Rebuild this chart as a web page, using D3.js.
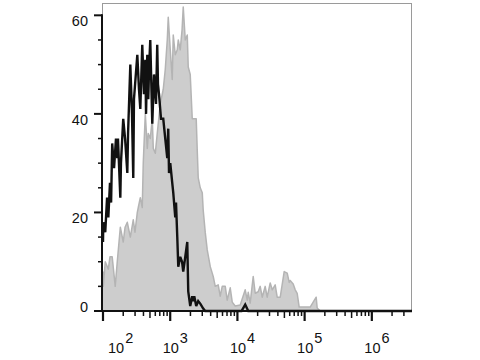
<!DOCTYPE html>
<html>
<head>
<meta charset="utf-8">
<script src="https://cdn.jsdelivr.net/npm/d3@7/dist/d3.min.js"></script>
<style>
  body { margin: 0; background: #fff; }
  svg text { font-family: "Liberation Sans", Arial, sans-serif; fill: #111; }
</style>
</head>
<body>
<div id="chart"></div>
<script>
// fluorescence intensity (x) and event count (y)
const stainedX = [100, 101, 108, 115, 120, 127, 132, 137, 146, 156, 163, 167, 181, 185, 200, 213, 230, 236,
  255, 270, 282, 289, 324, 343, 359, 384, 407, 426, 437, 456, 472, 484, 505, 541, 574, 615, 641, 658, 681,
  730, 788, 844, 904, 935, 960, 1002, 1072, 1110, 1189, 1220, 1274, 1318, 1410, 1500, 1563, 1675, 1794,
  1855, 1986, 2128, 2203, 2280, 2438, 2612, 2799, 3097, 3319, 11500, 13062, 14500, 3960000];
const stainedY = [14, 18, 16, 23, 19, 26, 22, 34, 29, 35, 31, 35, 23, 30, 39, 35, 28, 36,
  50, 40, 27, 43, 52, 45, 41, 54, 44, 51, 40, 52, 43, 49, 55, 38, 48, 42, 54, 46, 44,
  39, 39, 35, 31, 37, 28, 30, 26, 24, 19, 22, 15, 9, 11, 10, 8, 11, 14,
  4, 1, 3, 2, 3, 1, 2, 1.5, 0.5, 0, 0, 1.3, 0, 0];

const controlX = [100, 101, 108, 120, 127, 137, 152, 163, 181, 200, 213, 230, 255, 282, 299, 324, 335, 359,
  384, 397, 426, 456, 472, 505, 541, 560, 600, 641, 711, 788, 844, 904, 935, 1002, 1072, 1110, 1189, 1274,
  1318, 1410, 1500, 1563, 1675, 1794, 1855, 1986, 2128, 2357, 2438, 2524, 2612, 2799, 2999, 3097, 3319,
  3556, 3945, 4365, 4677, 5176, 5546, 5943, 6592, 7047, 7816, 8375, 9268, 11015, 13062, 13996, 14489,
  15488, 17178, 18408, 20370, 21827, 23388, 25880, 27733, 30761, 32961, 36475, 39083, 43351, 49659,
  55081, 58928, 60993, 67621, 72443, 77496, 82991, 121022, 148594, 153815, 170607];
const controlY = [8, 5, 10, 8.5, 11, 11, 5, 10, 17, 14, 17, 18, 15, 18.5, 16, 20, 21, 23,
  21, 30, 40, 33, 36, 35, 39, 33, 32, 36, 42, 45, 49, 55, 59.6, 53, 47, 56, 52, 53,
  55, 53, 57, 61.7, 55, 56, 49.5, 48, 39, 39, 39, 32.7, 27, 25, 24, 20.5, 16,
  12.4, 9, 7, 5, 5.3, 3, 5, 5, 2.2, 4.7, 1.8, 1, 1.2, 4.3, 2.2, 3.8,
  1.6, 7, 3.6, 3.9, 5, 2.8, 5, 2.8, 5.7, 4.3, 5.3, 2.8, 2.8, 8,
  7.7, 5.8, 6.2, 5.5, 4.3, 3.6, 0.8, 0.8, 2.8, 0.6, 0];

const yTicks = [0, 20, 40, 60];
const xDecades = [2, 3, 4, 5, 6];

const width = 480, height = 360;

const svg = d3.select("#chart").append("svg")
  .attr("width", width)
  .attr("height", height);

const x = d3.scaleLog().domain([100, 3960000]).range([103, 412]);
const y = d3.scaleLinear().domain([0, 62.5]).range([311, 3]);

const control = controlX.map((v, i) => ({ x: v, y: controlY[i] }));
const stained = stainedX.map((v, i) => ({ x: v, y: stainedY[i] }));

// frame
svg.append("rect")
  .attr("x", 102.5).attr("y", 3.5)
  .attr("width", 309).attr("height", 307.5)
  .attr("fill", "none")
  .attr("stroke", "#9a9a9a")
  .attr("stroke-width", 1);

// grey control histogram
const area = d3.area()
  .x(d => x(d.x))
  .y0(y(0))
  .y1(d => y(d.y));

const line = d3.line()
  .x(d => x(d.x))
  .y(d => y(d.y));

svg.append("path")
  .datum(control)
  .attr("fill", "#cdcdcd")
  .attr("d", area);

svg.append("path")
  .datum(control)
  .attr("fill", "none")
  .attr("stroke", "#b4b4b4")
  .attr("stroke-width", 1.5)
  .attr("stroke-linejoin", "round")
  .attr("d", line);

// black stained histogram
svg.append("path")
  .datum(stained)
  .attr("fill", "none")
  .attr("stroke", "#111")
  .attr("stroke-width", 2.4)
  .attr("stroke-linejoin", "miter")
  .attr("stroke-miterlimit", 3)
  .attr("d", line);

// y axis
const yMinor = d3.range(0, 61, 5).filter(v => !yTicks.includes(v));
svg.append("line")
  .attr("x1", 102).attr("x2", 102)
  .attr("y1", y(60) - 1).attr("y2", 312)
  .attr("stroke", "#111").attr("stroke-width", 2);

svg.selectAll(".ymaj").data(yTicks).join("line")
  .attr("x1", 94).attr("x2", 102)
  .attr("y1", d => y(d)).attr("y2", d => y(d))
  .attr("stroke", "#111").attr("stroke-width", 2);

svg.selectAll(".ymin").data(yMinor).join("line")
  .attr("x1", 98).attr("x2", 102)
  .attr("y1", d => y(d)).attr("y2", d => y(d))
  .attr("stroke", "#111").attr("stroke-width", 1.5);

svg.selectAll(".ylab").data(yTicks).join("text")
  .attr("x", 88)
  .attr("y", d => d === 0 ? y(d) + 1 : y(d) + 11)
  .attr("text-anchor", "end")
  .attr("font-size", 14.5)
  .text(d => d);

// x axis
svg.append("line")
  .attr("x1", 101).attr("x2", 412)
  .attr("y1", 311).attr("y2", 311)
  .attr("stroke", "#111").attr("stroke-width", 2.2);

const xMajor = xDecades.map(e => Math.pow(10, e));
const xMinor = [];
xDecades.forEach(e => {
  for (let m = 2; m <= 9; m++) {
    const v = m * Math.pow(10, e);
    if (v <= 3960000) xMinor.push(v);
  }
});

svg.selectAll(".xmaj").data(xMajor).join("line")
  .attr("x1", d => x(d)).attr("x2", d => x(d))
  .attr("y1", 311).attr("y2", 321)
  .attr("stroke", "#111").attr("stroke-width", 2.2);

svg.selectAll(".xmin").data(xMinor).join("line")
  .attr("x1", d => x(d)).attr("x2", d => x(d))
  .attr("y1", 311).attr("y2", d => String(d)[0] === "5" ? 318 : 316)
  .attr("stroke", "#111").attr("stroke-width", 1.5);

// decade labels: "10" centred under the tick, exponent raised after it
const xlab = svg.selectAll(".xlab").data(xDecades).join("text")
  .attr("x", d => d === 2 ? 108 : x(Math.pow(10, d)) - 7.5)
  .attr("y", 353)
  .attr("text-anchor", "start")
  .attr("font-size", 14.5);
xlab.append("tspan").text("10");
xlab.append("tspan")
  .attr("dy", -10)
  .attr("dx", 1)
  .text(d => d);
</script>
</body>
</html>
